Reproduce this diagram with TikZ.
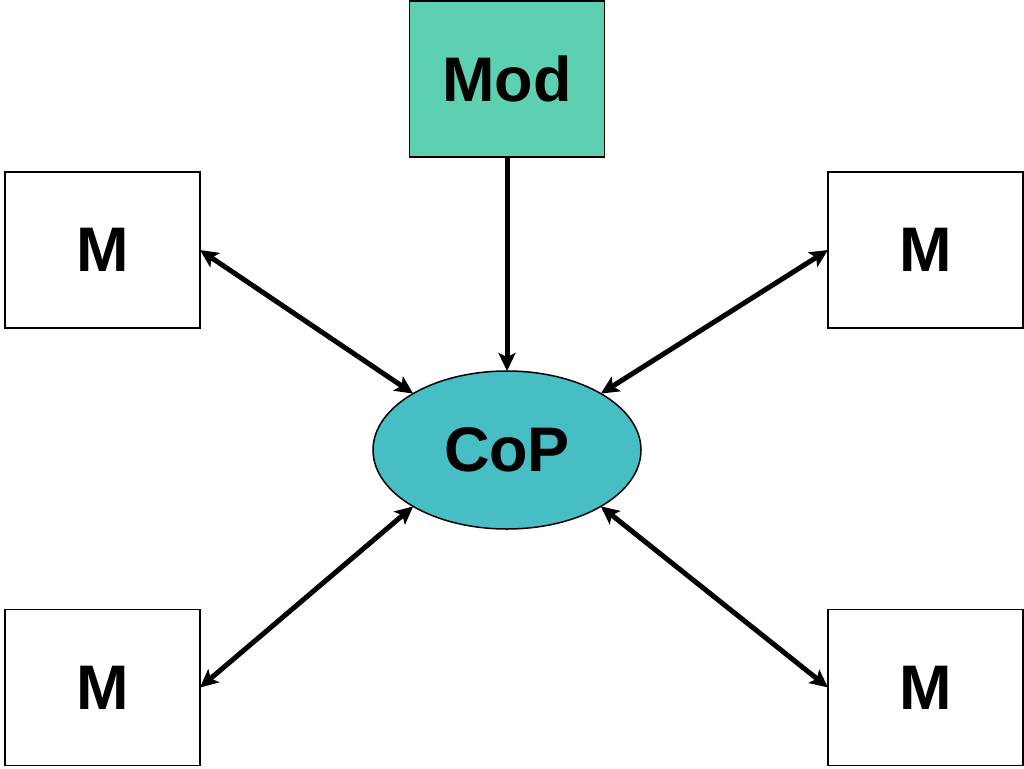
\documentclass[tikz,border=0pt]{standalone}
\usepackage{fontspec}
\setmainfont{Liberation Sans}
\usetikzlibrary{shapes.geometric,arrows.meta}
\definecolor{modc}{HTML}{5ED0B2}
\definecolor{copc}{HTML}{47BDC4}
\begin{document}
\begin{tikzpicture}[x=1pt,y=-1pt,
  lbl/.style={font=\fontsize{63pt}{63pt}\selectfont\bfseries},
  box/.style={lbl,draw=black,line width=1.5pt,minimum width=195pt,minimum height=156pt,inner sep=0pt,outer sep=0pt},
  conn/.style={line width=5pt,{Stealth[length=18pt,width=17pt,inset=4pt]}-{Stealth[length=18pt,width=17pt,inset=4pt]}},
  conn1/.style={line width=5pt,-{Stealth[length=18pt,width=17pt,inset=4pt]}}]
\useasboundingbox (0,0) rectangle (1024,768);
\node[box,fill=modc] (mod) at (507,79) {Mod};
\node[box] (tl) at (102.5,250) {M};
\node[box] (tr) at (925.5,250) {M};
\node[box] (bl) at (102.5,687.5) {M};
\node[box] (br) at (925.5,687.5) {M};
\node[lbl,draw=black,line width=1.5pt,ellipse,fill=copc,minimum width=268pt,minimum height=158pt,inner sep=0pt,outer sep=0pt] (cop) at (507,450) {CoP};
\draw[conn1] (mod.south) -- (cop.north);
\draw[conn] (tl.east) -- (cop.149);
\draw[conn] (tr.west) -- (cop.31);
\draw[conn] (bl.east) -- (cop.211);
\draw[conn] (br.west) -- (cop.329);
\end{tikzpicture}
\end{document}
